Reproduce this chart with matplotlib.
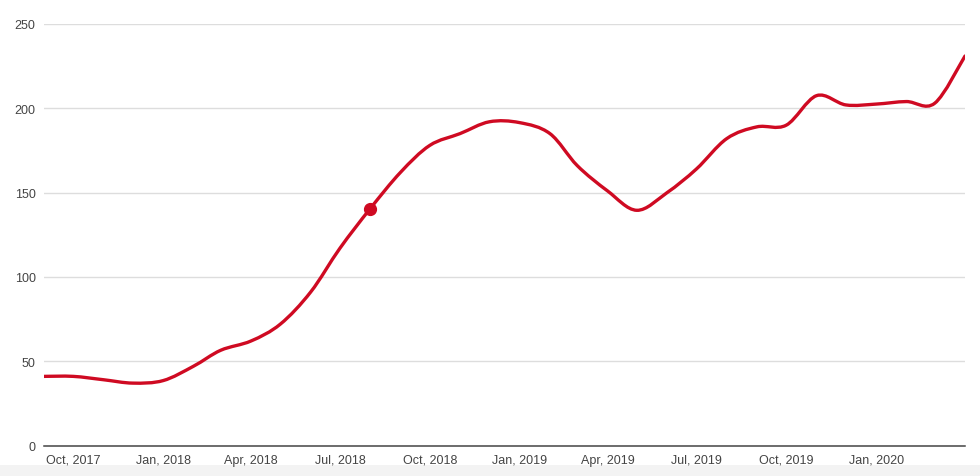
import numpy as np
import matplotlib
matplotlib.use("Agg")
import matplotlib.pyplot as plt
import matplotlib.dates as mdates
from matplotlib.path import Path
from matplotlib.patches import PathPatch, Rectangle
import datetime as dt

# ---- data (monthly, Sep 2017 .. Apr 2020) ----
start_year, start_month = 2017, 9
values = [41, 41, 39, 37, 38.5, 47, 56.5, 62, 72, 91, 117, 140.5,
          162, 178, 185, 192, 191.5, 185, 166, 151, 139.5, 150,
          164, 182, 189, 190, 207.5, 202, 202.5, 204, 203, 231]
highlight_index = 11  # Aug 2018 point shown with a marker
y_ticks = [0, 50, 100, 150, 200, 250]
x_tick_labels = ["Oct, 2017", "Jan, 2018", "Apr, 2018", "Jul, 2018", "Oct, 2018",
                 "Jan, 2019", "Apr, 2019", "Jul, 2019", "Oct, 2019", "Jan, 2020"]

dates = []
for i in range(len(values)):
    m = start_month - 1 + i
    dates.append(dt.date(start_year + m // 12, m % 12 + 1, 1))
tick_dates = []
for i in range(len(x_tick_labels)):
    m = 9 + 3 * i
    tick_dates.append(dt.date(2017 + m // 12, m % 12 + 1, 1))

RED = "#cf0a22"

fig = plt.figure(figsize=(9.8, 4.77), dpi=100)
fig.patch.set_facecolor("white")
# light gray band at bottom of screenshot
fig.patches.append(Rectangle((0, 0), 1, 11 / 477, transform=fig.transFigure,
                             facecolor="#f3f3f3", edgecolor="none", zorder=-10))

ax = fig.add_axes([44 / 980, (477 - 446.5) / 477, (965 - 44) / 980, (446.5 - 25) / 477])
ax.set_facecolor("white")

x = mdates.date2num(dates)
y = np.array(values, dtype=float)

# smooth curve rendering (Catmull-Rom -> cubic Bezier), drawn in data coords
pts = np.column_stack([x, y])
verts = [tuple(pts[0])]
codes = [Path.MOVETO]
t = 1 / 6.0
for i in range(len(pts) - 1):
    p0 = pts[i - 1] if i > 0 else pts[i]
    p1 = pts[i]
    p2 = pts[i + 1]
    p3 = pts[i + 2] if i + 2 < len(pts) else pts[i + 1]
    c1 = p1 + (p2 - p0) * t
    c2 = p2 - (p3 - p1) * t
    verts += [tuple(c1), tuple(c2), tuple(p2)]
    codes += [Path.CURVE4, Path.CURVE4, Path.CURVE4]
path = Path(verts, codes)
ax.add_patch(PathPatch(path, facecolor="none", edgecolor=RED, lw=2.4,
                       capstyle="round", joinstyle="round", zorder=3))
ax.plot([x[highlight_index]], [y[highlight_index]], "o", color=RED,
        markersize=8.5, zorder=4)

ax.set_xlim(x[0], x[-1])
ax.set_ylim(0, 250)
ax.set_yticks(y_ticks)
ax.set_yticklabels([str(v) for v in y_ticks])
ax.set_xticks(mdates.date2num(tick_dates))
ax.set_xticklabels(x_tick_labels)

for v in y_ticks[1:]:
    ax.axhline(v, color="#dddddd", lw=1.0, zorder=1)
ax.axhline(0, color="#444444", lw=1.1, zorder=2, clip_on=False)

for s in ax.spines.values():
    s.set_visible(False)
ax.tick_params(axis="both", length=0, labelsize=9, labelcolor="#444444")
ax.tick_params(axis="y", pad=6)
ax.tick_params(axis="x", pad=12.5)
for lab in ax.get_xticklabels():
    lab.set_verticalalignment("baseline")
for lab in ax.get_xticklabels() + ax.get_yticklabels():
    lab.set_fontfamily(["Liberation Sans", "DejaVu Sans"])

fig.savefig("out.png", dpi=100, facecolor="white")
